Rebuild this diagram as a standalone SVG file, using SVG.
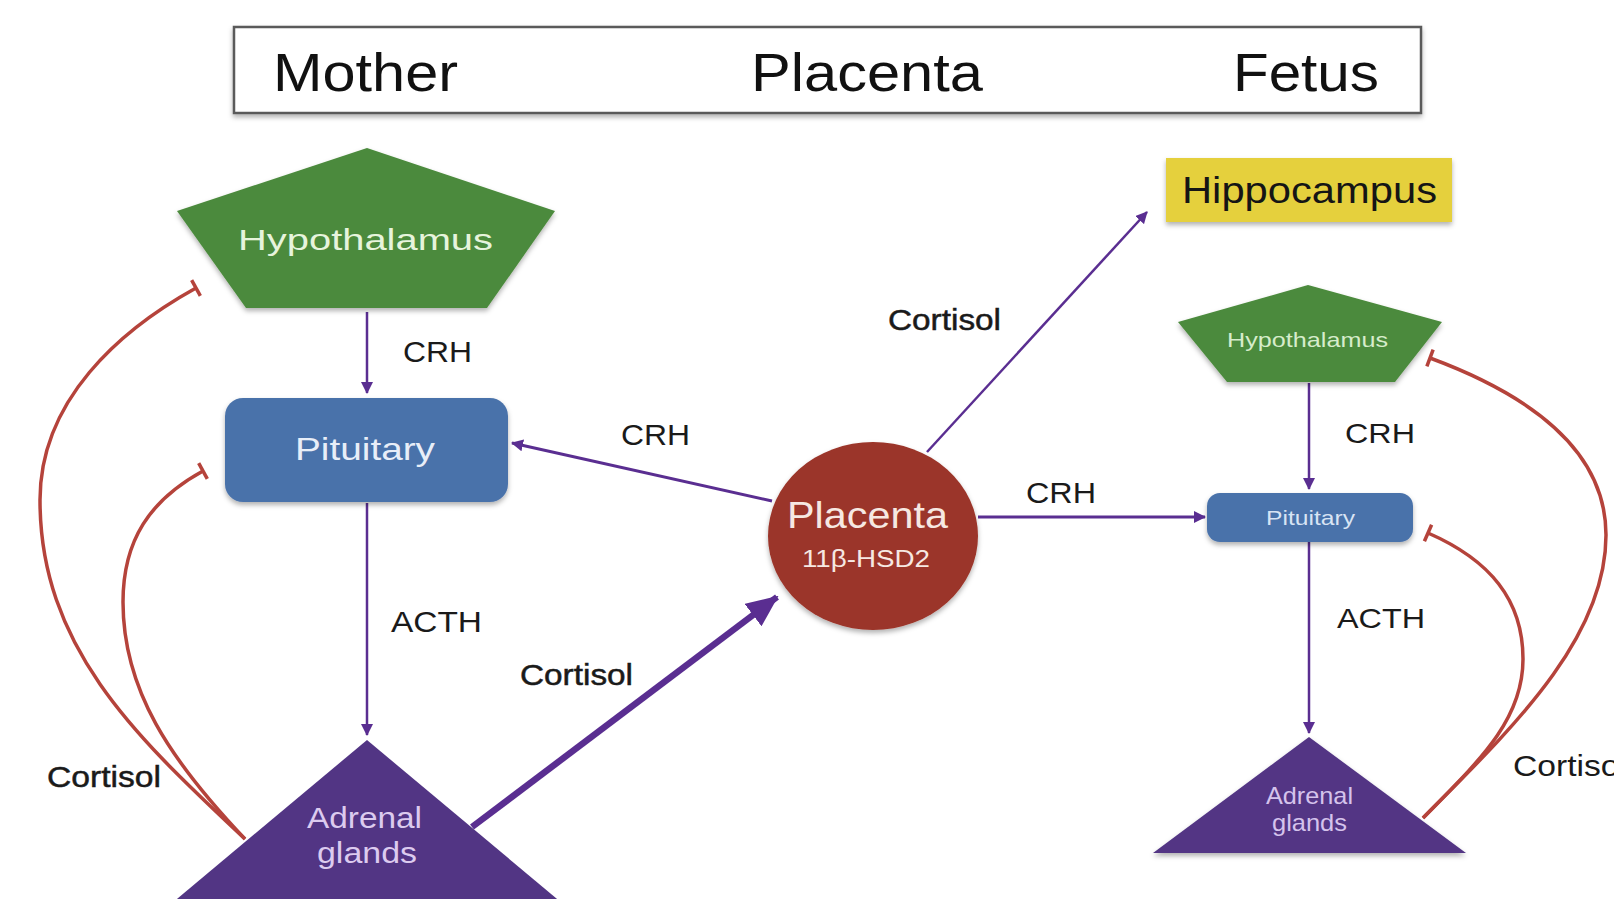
<svg xmlns="http://www.w3.org/2000/svg" width="1614" height="899" viewBox="0 0 1614 899">
<defs>
<style>
.lbl{font-family:"Liberation Sans",Arial,sans-serif;fill:#1a1a1a;}
.cort{stroke:#1a1a1a;stroke-width:0.5;}
.hdr{font-family:"Liberation Sans",Arial,sans-serif;fill:#111;font-size:54px;}
.node{font-family:"Liberation Sans",Arial,sans-serif;}
.pl{fill:none;stroke:#5a2e91;stroke-width:2.5;}
.pl3{stroke-width:3;}
.pl6{stroke-width:6.5;}
.inh{fill:none;stroke:#b5433b;stroke-width:3.5;}
</style>
<filter id="sh" x="-10%" y="-10%" width="120%" height="130%">
<feDropShadow dx="0" dy="3" stdDeviation="2.5" flood-color="#000" flood-opacity="0.3"/>
</filter>
<marker id="arr" markerUnits="userSpaceOnUse" viewBox="0 0 12 12" refX="11" refY="6" markerWidth="12" markerHeight="12" orient="auto">
<path d="M0,0 L12,6 L0,12 z" fill="#5a2e91"/>
</marker>
<marker id="arrBig" markerUnits="userSpaceOnUse" viewBox="0 0 32 28" refX="30" refY="14" markerWidth="32" markerHeight="28" orient="auto">
<path d="M0,0 L32,14 L0,28 z" fill="#5a2e91"/>
</marker>
<marker id="tee" markerUnits="userSpaceOnUse" viewBox="-3 -11 6 22" refX="0" refY="0" markerWidth="6" markerHeight="22" orient="auto">
<path d="M0,-9 L0,9" stroke="#b5433b" stroke-width="3.5"/>
</marker>
</defs>
<rect width="1614" height="899" fill="#ffffff"/>

<g id="header">
<rect x="234" y="27" width="1187" height="86" fill="#fff" stroke="#5a5a5a" stroke-width="2.5" filter="url(#sh)"/>
<text class="hdr" x="273" y="91" textLength="185" lengthAdjust="spacingAndGlyphs">Mother</text>
<text class="hdr" x="751" y="91" textLength="232" lengthAdjust="spacingAndGlyphs">Placenta</text>
<text class="hdr" x="1233" y="91" textLength="146" lengthAdjust="spacingAndGlyphs">Fetus</text>
</g>

<g id="connectors">
<line class="pl" x1="367" y1="312" x2="367" y2="393" marker-end="url(#arr)"/>
<line class="pl" x1="367" y1="503" x2="367" y2="735" marker-end="url(#arr)"/>
<line class="pl pl3" x1="772" y1="501" x2="512" y2="443" marker-end="url(#arr)"/>
<line class="pl" x1="927" y1="452" x2="1147" y2="212" marker-end="url(#arr)"/>
<line class="pl pl3" x1="978" y1="517" x2="1205" y2="517" marker-end="url(#arr)"/>
<line class="pl pl6" x1="472" y1="827" x2="777" y2="597" marker-end="url(#arrBig)"/>
<line class="pl" x1="1309" y1="383" x2="1309" y2="489" marker-end="url(#arr)"/>
<line class="pl" x1="1309" y1="542" x2="1309" y2="733" marker-end="url(#arr)"/>
<path class="inh" d="M245,839 C140,740 40,650 40,500 C40,400 120,330 196,288" marker-end="url(#tee)"/>
<path class="inh" d="M245,839 C170,760 123,690 123,602 C123,540 150,500 203,471" marker-end="url(#tee)"/>
<path class="inh" d="M1423,818 C1510,730 1606,640 1606,535 C1606,450 1530,395 1430,358" marker-end="url(#tee)"/>
<path class="inh" d="M1423,818 C1480,760 1523,720 1523,659 C1523,600 1490,560 1428,533" marker-end="url(#tee)"/>
<text class="lbl" x="403" y="362" font-size="30" textLength="69" lengthAdjust="spacingAndGlyphs">CRH</text>
<text class="lbl" x="391" y="632" font-size="30" textLength="91" lengthAdjust="spacingAndGlyphs">ACTH</text>
<text class="lbl cort" x="520" y="685" font-size="30" textLength="113" lengthAdjust="spacingAndGlyphs">Cortisol</text>
<text class="lbl cort" x="47" y="787" font-size="30" textLength="114" lengthAdjust="spacingAndGlyphs">Cortisol</text>
<text class="lbl" x="621" y="445" font-size="30" textLength="69" lengthAdjust="spacingAndGlyphs">CRH</text>
<text class="lbl cort" x="888" y="330" font-size="30" textLength="113" lengthAdjust="spacingAndGlyphs">Cortisol</text>
<text class="lbl" x="1026" y="503" font-size="30" textLength="70" lengthAdjust="spacingAndGlyphs">CRH</text>
<text class="lbl" x="1345" y="443" font-size="28" textLength="70" lengthAdjust="spacingAndGlyphs">CRH</text>
<text class="lbl" x="1337" y="628" font-size="28" textLength="88" lengthAdjust="spacingAndGlyphs">ACTH</text>
<text class="lbl" x="1513" y="776" font-size="30" textLength="114" lengthAdjust="spacingAndGlyphs">Cortisol</text>
</g>

<g id="mother-hypothalamus">
<polygon points="367,148 177,211 246,308 487,308 555,211" fill="#4b8a3c" filter="url(#sh)"/>
<text class="node" x="238" y="250" font-size="30" fill="#e6f4dc" textLength="255" lengthAdjust="spacingAndGlyphs">Hypothalamus</text>
</g>

<g id="mother-pituitary">
<rect x="225" y="398" width="283" height="104" rx="18" fill="#4a72aa" filter="url(#sh)"/>
<text class="node" x="295" y="460" font-size="32" fill="#e8eef8" textLength="140" lengthAdjust="spacingAndGlyphs">Pituitary</text>
</g>

<g id="mother-adrenal">
<polygon points="367,740 153,919 581,919" fill="#523584"/>
<text class="node" x="307" y="828" font-size="29" fill="#dccbef" textLength="115" lengthAdjust="spacingAndGlyphs">Adrenal</text>
<text class="node" x="317" y="863" font-size="29" fill="#dccbef" textLength="100" lengthAdjust="spacingAndGlyphs">glands</text>
</g>

<g id="placenta">
<ellipse cx="873" cy="536" rx="105" ry="94" fill="#9b3529" filter="url(#sh)"/>
<text class="node" x="787" y="528" font-size="36" fill="#f6e8e2" textLength="161" lengthAdjust="spacingAndGlyphs">Placenta</text>
<text class="node" x="802" y="567" font-size="24" fill="#f6e8e2" textLength="128" lengthAdjust="spacingAndGlyphs">11β-HSD2</text>
</g>

<g id="hippocampus">
<rect x="1166" y="158" width="286" height="64" fill="#e5d03c" filter="url(#sh)"/>
<text class="node" x="1182" y="203" font-size="36" fill="#151515" textLength="255" lengthAdjust="spacingAndGlyphs">Hippocampus</text>
</g>

<g id="fetus-hypothalamus">
<polygon points="1308,285 1178,322 1227,382 1395,382 1442,322" fill="#4b8a3c" filter="url(#sh)"/>
<text class="node" x="1227" y="347" font-size="21" fill="#d6eccb" textLength="161" lengthAdjust="spacingAndGlyphs">Hypothalamus</text>
</g>

<g id="fetus-pituitary">
<rect x="1207" y="493" width="206" height="49" rx="13" fill="#4a72aa" filter="url(#sh)"/>
<text class="node" x="1266" y="525" font-size="21" fill="#d8e4f4" textLength="89" lengthAdjust="spacingAndGlyphs">Pituitary</text>
</g>

<g id="fetus-adrenal">
<polygon points="1309,737 1153,853 1466,853" fill="#523584" filter="url(#sh)"/>
<text class="node" x="1266" y="804" font-size="24" fill="#d5c3ec" textLength="87" lengthAdjust="spacingAndGlyphs">Adrenal</text>
<text class="node" x="1272" y="831" font-size="24" fill="#d5c3ec" textLength="75" lengthAdjust="spacingAndGlyphs">glands</text>
</g>
</svg>
